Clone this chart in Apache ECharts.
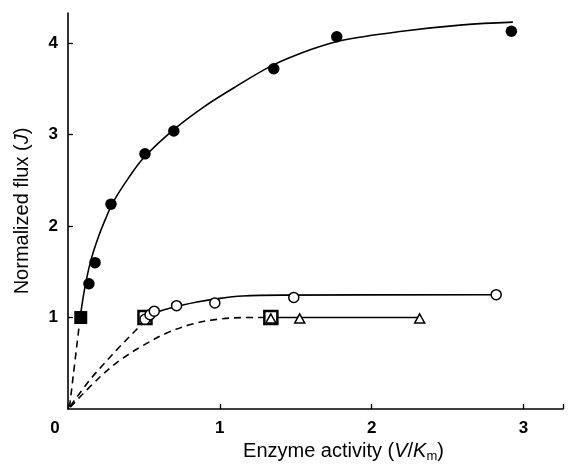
<!DOCTYPE html>
<html>
<head>
<meta charset="utf-8">
<script src="https://cdn.jsdelivr.net/npm/echarts@6/dist/echarts.min.js"></script>
<style>
  html, body { margin: 0; padding: 0; background: #fff; }
  #chart { width: 574px; height: 468px; }
</style>
</head>
<body>
<div id="chart"></div>
<script>
// measured points
const filledCircles = [[0.138, 1.37], [0.178, 1.60], [0.283, 2.24], [0.507, 2.79], [0.697, 3.04], [1.355, 3.72], [1.77, 4.07], [2.92, 4.13]];
const filledSquares = [[0.084, 1.0]];
const openSquares = [[0.507, 1.0], [1.336, 1.0]];
const openCircles = [[0.507, 0.98], [0.54, 1.03], [0.568, 1.07], [0.715, 1.13], [0.967, 1.16], [1.487, 1.22], [2.82, 1.25]];
const triangles = [[1.336, 0.99], [1.526, 0.99], [2.316, 0.99]];

// fitted curves
const topCurve = [[0.08, 1.0], [0.11, 1.32], [0.15, 1.62], [0.2, 1.88], [0.25, 2.09], [0.3, 2.27], [0.4, 2.53], [0.5, 2.75], [0.7, 3.06], [0.9, 3.31], [1.1, 3.52], [1.35, 3.76], [1.6, 3.93], [1.8, 4.03], [2.2, 4.13], [2.6, 4.2], [2.93, 4.23]];
const steepDash = [[0.01, 0.02], [0.08, 1.0]];
const midDash = [[0.015, 0.03], [0.14, 0.31], [0.24, 0.5], [0.34, 0.68], [0.44, 0.85], [0.507, 0.96]];
const midSolid = [[0.507, 0.97], [0.56, 1.04], [0.69, 1.11], [0.85, 1.17], [1.0, 1.21], [1.15, 1.235], [1.4, 1.245], [2.82, 1.25]];
const lowDash = [[0.015, 0.02], [0.21, 0.35], [0.34, 0.53], [0.49, 0.69], [0.65, 0.83], [0.82, 0.93], [0.98, 0.98], [1.17, 1.0], [1.336, 1.0]];
const lowSolid = [[1.336, 1.0], [2.316, 1.0]];

const xTicks = [0, 1, 2, 3];
const yTicks = [1, 2, 3, 4];

let chart = echarts.init(document.getElementById('chart'));
const ink = '#000';
const font = 'Liberation Sans';

function curve(data, dashed) {
  return {
    type: 'line', data: data, smooth: 0.35, symbol: 'none', silent: true,
    lineStyle: { color: ink, width: 1.6, type: dashed ? [7, 5] : 'solid' },
    z: 2
  };
}

let option = {
  animation: false,
  grid: { left: 68, right: 11, top: 13, bottom: 59 },
  xAxis: {
    type: 'value', min: 0, max: 3.26, interval: 1,
    name: 'Enzyme activity ({i|V}/{i|K}{s|m})',
    nameLocation: 'middle', nameGap: 29,
    nameTextStyle: {
      fontFamily: font, fontSize: 20, color: ink, padding: [0, 0, 0, 56],
      rich: {
        i: { fontFamily: font, fontSize: 20, fontStyle: 'italic', color: ink },
        s: { fontFamily: font, fontSize: 13, color: ink, padding: [9, 0, 0, 0] }
      }
    },
    axisLine: { show: true, onZero: false, lineStyle: { color: ink, width: 1.6 } },
    axisTick: { show: true, inside: true, length: 5, lineStyle: { color: ink, width: 1.3 } },
    splitLine: { show: false },
    axisLabel: {
      fontFamily: font, fontSize: 17, fontWeight: 'bold', color: ink, margin: 11,
      customValues: xTicks,
      formatter: v => v === 0 ? '{z|0}' : String(v),
      rich: { z: { fontFamily: font, fontSize: 17, fontWeight: 'bold', color: ink, padding: [0, 26, 0, 0] } }
    }
  },
  yAxis: {
    type: 'value', min: 0, max: 4.33, interval: 1,
    name: 'Normalized flux ({i|J})',
    nameLocation: 'middle', nameGap: 36,
    nameTextStyle: {
      fontFamily: font, fontSize: 20, color: ink,
      rich: { i: { fontFamily: font, fontSize: 20, fontStyle: 'italic', color: ink } }
    },
    axisLine: { show: true, onZero: false, lineStyle: { color: ink, width: 1.6 } },
    axisTick: { show: true, inside: true, length: 5, customValues: yTicks, lineStyle: { color: ink, width: 1.3 } },
    splitLine: { show: false },
    axisLabel: {
      fontFamily: font, fontSize: 17, fontWeight: 'bold', color: ink, margin: 10,
      customValues: yTicks
    }
  },
  series: [
    curve(topCurve, false),
    curve(steepDash, true),
    curve(midDash, true),
    curve(midSolid, false),
    curve(lowDash, true),
    curve(lowSolid, false),
    {
      type: 'scatter', data: filledSquares, symbol: 'rect', symbolSize: 13,
      itemStyle: { color: ink, opacity: 1 }, z: 3
    },
    {
      type: 'scatter', data: openSquares, symbol: 'rect', symbolSize: 13,
      itemStyle: { color: '#fff', borderColor: ink, borderWidth: 2.5, opacity: 1 }, z: 3
    },
    {
      type: 'scatter', data: filledCircles, symbol: 'circle', symbolSize: 11.5,
      itemStyle: { color: ink, opacity: 1 }, z: 4
    },
    {
      type: 'scatter', data: openCircles, symbol: 'circle', symbolSize: 10,
      itemStyle: { color: '#fff', borderColor: ink, borderWidth: 1.5, opacity: 1 }, z: 4
    },
    {
      type: 'scatter', data: triangles, symbol: 'triangle', symbolSize: [10, 9],
      itemStyle: { color: '#fff', borderColor: ink, borderWidth: 1.5, opacity: 1 }, z: 4
    }
  ]
};

option && chart.setOption(option);
</script>
</body>
</html>
